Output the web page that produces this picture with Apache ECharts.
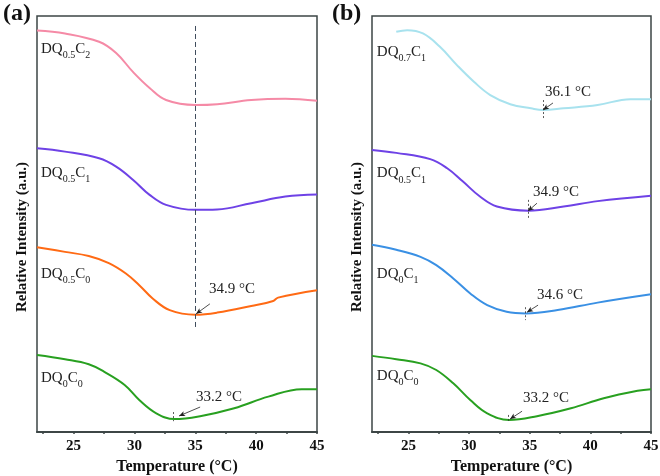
<!DOCTYPE html>
<html>
<head>
<meta charset="utf-8">
<script src="https://cdn.jsdelivr.net/npm/echarts@6/dist/echarts.min.js"></script>
<style>html,body{margin:0;padding:0;background:#fff}#c{width:660px;height:476px}</style>
</head>
<body>
<div id="c"></div>
<script>
// ---- Panel (a) data (Temperature °C, Relative Intensity a.u.) ----
const aC2_T = [22, 24.3, 27.1, 28.5, 29.9, 31.25, 32.6, 35, 36.8, 39.6, 42.4, 45];
const aC2_I = [96.5, 95.8, 93.8, 91.1, 86.5, 82.7, 79.8, 78.6, 78.8, 79.8, 80.1, 79.6];
const aC1_T = [22, 24.3, 27.1, 28.5, 29.9, 31.25, 32.6, 35, 36.8, 39.6, 42.4, 45];
const aC1_I = [68.2, 67.4, 65.8, 63.8, 60.6, 57.0, 54.6, 53.4, 53.5, 55.0, 56.6, 57.1];
const aC0_T = [22, 24.3, 26.25, 27.9, 29.3, 30.4, 31.5, 32.9, 35, 36.8, 39.6, 41.4, 41.8, 45];
const aC0_I = [44.4, 43.3, 42.3, 40.6, 38.1, 35.3, 32.1, 29.3, 28.2, 28.7, 30.3, 31.5, 32.3, 34.1];
const aQ0_T = [22, 24.3, 26.25, 27.5, 29.2, 30.4, 31.8, 33.3, 35.4, 38.2, 41, 43.75, 45];
const aQ0_I = [18.5, 17.5, 16.3, 14.5, 11.3, 7.7, 4.5, 3.1, 3.8, 5.7, 8.5, 10.3, 10.3];

// ---- Panel (b) data ----
const bQ7_T = [24.0, 24.9, 26.2, 27.6, 29.0, 30.4, 31.75, 33.4, 35.1, 36.1, 37.8, 40.6, 43.3, 45];
const bQ7_I = [96.2, 96.6, 95.8, 92.6, 88.2, 84.2, 81.0, 78.8, 77.8, 77.4, 77.8, 78.6, 80.0, 80.0];
const bQ5_T = [22, 24.0, 26.8, 28.2, 29.5, 30.9, 32.3, 34.9, 37.8, 40.6, 45];
const bQ5_I = [67.8, 67.1, 65.6, 63.4, 60.2, 56.6, 54.2, 53.2, 54.2, 55.5, 56.8];
const bQ0C1_T = [22, 24.0, 26.0, 27.3, 28.7, 30.1, 31.5, 33.1, 34.7, 37.3, 40.6, 45];
const bQ0C1_I = [45.0, 43.8, 42.1, 40.1, 36.9, 33.3, 30.5, 28.9, 28.5, 29.3, 31.1, 33.1];
const bQ0C0_T = [22, 24.0, 26.0, 27.3, 28.7, 30.1, 31.5, 33.3, 35.6, 38.4, 41.1, 43.9, 45];
const bQ0C0_I = [18.3, 17.5, 16.5, 14.9, 11.7, 7.7, 4.5, 2.9, 3.8, 5.7, 8.1, 9.9, 10.3];

// ---- Tick labels ----
const xTickLabels = [25, 30, 35, 40, 45];
const xTicks = [22.5, 25, 27.5, 30, 32.5, 35, 37.5, 40, 42.5, 45];

// ---- Sample names (rich text: main / subscript) ----
const namesA = [['0.5', '2'], ['0.5', '1'], ['0.5', '0'], ['0', '0']];
const namesB = [['0.7', '1'], ['0.5', '1'], ['0', '1'], ['0', '0']];
const nameYA = [91.7, 62.0, 37.7, 12.7];
const nameYB = [90.9, 61.8, 37.7, 13.2];

// ---- Transition temperatures ----
const tA = [null, null, 34.9, 33.2];
const tB = [36.1, 34.9, 34.6, 33.2];

const colorsA = ['#f58aa6', '#6e42e6', '#ff6a14', '#28a020'];
const colorsB = ['#a8e2ee', '#6e42e6', '#3a90e4', '#28a020'];

const SERIF = '"Liberation Serif","Times New Roman",serif';
const zip = (xs, ys) => xs.map((x, i) => [x, ys[i]]);

const rich = {
  m: { fontFamily: SERIF, fontSize: 15, color: '#222', lineHeight: 18, verticalAlign: 'top' },
  s: { fontFamily: SERIF, fontSize: 10, color: '#222', lineHeight: 10, verticalAlign: 'top', padding: [9, 0, 0, 0] }
};
function nameFmt(n) { return '{m|DQ}{s|' + n[0] + '}{m|C}{s|' + n[1] + '}'; }

// annotation geometry (data coords): [textT, textI, arrowFromT, arrowFromI, arrowToT, arrowToI, tickI1, tickI2]
const annA = [null, null,
  [36.13, 34.4, 36.2, 30.8, 35.07, 28.4, null, null],
  [35.07, 8.4, 35.4, 6.0, 33.67, 3.85, 4.8, 2.6]];
const annB = [
  [36.26, 81.7, 36.92, 79.1, 36.1, 77.4, 79.8, 75.0],
  [35.27, 57.7, 35.6, 55.0, 34.86, 53.1, 55.8, 51.4],
  [35.6, 32.9, 35.69, 30.5, 34.78, 28.8, 30.0, 26.9],
  [34.45, 8.2, 34.37, 5.0, 33.38, 3.1, 4.1, 2.2]];

function makeSeries(idx, Ts, Is, color, nm, nameY, nameX, tval, ann, extraLines) {
  const mpData = [{
    coord: [nameX, nameY], symbol: 'circle', symbolSize: 0,
    label: { show: true, position: 'right', distance: 0, formatter: nameFmt(nm), rich: rich }
  }];
  const mlData = [];
  if (ann) {
    mpData.push({
      coord: [ann[0], ann[1]], symbol: 'circle', symbolSize: 0,
      label: { show: true, position: 'right', distance: 0, formatter: tval.toFixed(1) + ' \u00B0C',
        fontFamily: SERIF, fontSize: 15, color: '#222' }
    });
    mlData.push([
      { coord: [ann[2], ann[3]], symbol: 'none', lineStyle: { color: '#222', width: 0.8, type: 'solid' } },
      { coord: [ann[4], ann[5]], symbol: 'arrow', symbolSize: [4, 6] }
    ]);
    if (ann[6] !== null) {
      mlData.push([
        { coord: [tval, ann[6]], symbol: 'none', lineStyle: { color: '#333', width: 0.8, type: [2, 2] } },
        { coord: [tval, ann[7]], symbol: 'none' }
      ]);
    }
  }
  (extraLines || []).forEach(l => mlData.push(l));
  return {
    type: 'line', xAxisIndex: idx, yAxisIndex: idx,
    data: zip(Ts, Is), showSymbol: false, smooth: 0.4,
    lineStyle: { color: color, width: 2 }, itemStyle: { color: color },
    silent: true,
    markPoint: { silent: true, animation: false, data: mpData },
    markLine: { silent: true, animation: false, symbol: 'none', label: { show: false }, data: mlData }
  };
}

const dashed35 = [
  { coord: [35, 97.6], symbol: 'none', lineStyle: { color: '#3f4c5c', width: 1, type: [5, 3] } },
  { coord: [35, 25.0], symbol: 'none' }
];

const seriesA = [
  makeSeries(0, aC2_T, aC2_I, colorsA[0], namesA[0], nameYA[0], 22.33, null, null, [dashed35]),
  makeSeries(0, aC1_T, aC1_I, colorsA[1], namesA[1], nameYA[1], 22.33, null, null),
  makeSeries(0, aC0_T, aC0_I, colorsA[2], namesA[2], nameYA[2], 22.33, tA[2], annA[2]),
  makeSeries(0, aQ0_T, aQ0_I, colorsA[3], namesA[3], nameYA[3], 22.33, tA[3], annA[3])
];
const seriesB = [
  makeSeries(1, bQ7_T, bQ7_I, colorsB[0], namesB[0], nameYB[0], 22.4, tB[0], annB[0]),
  makeSeries(1, bQ5_T, bQ5_I, colorsB[1], namesB[1], nameYB[1], 22.4, tB[1], annB[1]),
  makeSeries(1, bQ0C1_T, bQ0C1_I, colorsB[2], namesB[2], nameYB[2], 22.4, tB[2], annB[2]),
  makeSeries(1, bQ0C0_T, bQ0C0_I, colorsB[3], namesB[3], nameYB[3], 22.4, tB[3], annB[3])
];

function xAxis(idx) {
  return {
    type: 'value', gridIndex: idx, min: 22, max: 45,
    name: 'Temperature (\u00B0C)', nameLocation: 'middle', nameGap: 23,
    nameTextStyle: { fontFamily: SERIF, fontSize: 16, fontWeight: 'bold', color: '#111' },
    axisLine: { show: true, lineStyle: { color: '#3d4646', width: 2 } },
    axisTick: { show: true, length: 2, customValues: xTicks, lineStyle: { color: '#3d4646', width: 1.5 } },
    axisLabel: { customValues: xTickLabels, margin: 7, fontFamily: SERIF, fontSize: 15, fontWeight: 'bold', color: '#111' },
    splitLine: { show: false }
  };
}
function yAxis(idx) {
  return {
    type: 'value', gridIndex: idx, min: 0, max: 100,
    name: 'Relative Intensity (a.u.)', nameLocation: 'middle', nameGap: 7,
    nameTextStyle: { fontFamily: SERIF, fontSize: 15, fontWeight: 'bold', color: '#111', padding: [0, 26, 0, 0] },
    axisLine: { show: false }, axisTick: { show: false }, axisLabel: { show: false }, splitLine: { show: false }
  };
}

const gridBase = { top: 16, height: 416, show: true, borderColor: '#3d4646', borderWidth: 1.5,
  backgroundColor: 'transparent', containLabel: false, outerBoundsMode: 'none' };

const chart = echarts.init(document.getElementById('c'), null, { renderer: 'canvas' });
chart.setOption({
  backgroundColor: '#fff',
  animation: false,
  grid: [
    Object.assign({ left: 37, width: 280 }, gridBase),
    Object.assign({ left: 372, width: 279 }, gridBase)
  ],
  xAxis: [xAxis(0), xAxis(1)],
  yAxis: [yAxis(0), yAxis(1)],
  graphic: [
    { type: 'text', left: 3, top: 2, style: { text: '(a)', font: 'bold 24px ' + SERIF, fill: '#111' } },
    { type: 'text', left: 332, top: 2, style: { text: '(b)', font: 'bold 24px ' + SERIF, fill: '#111' } }
  ],
  series: seriesA.concat(seriesB)
});
</script>
</body>
</html>
